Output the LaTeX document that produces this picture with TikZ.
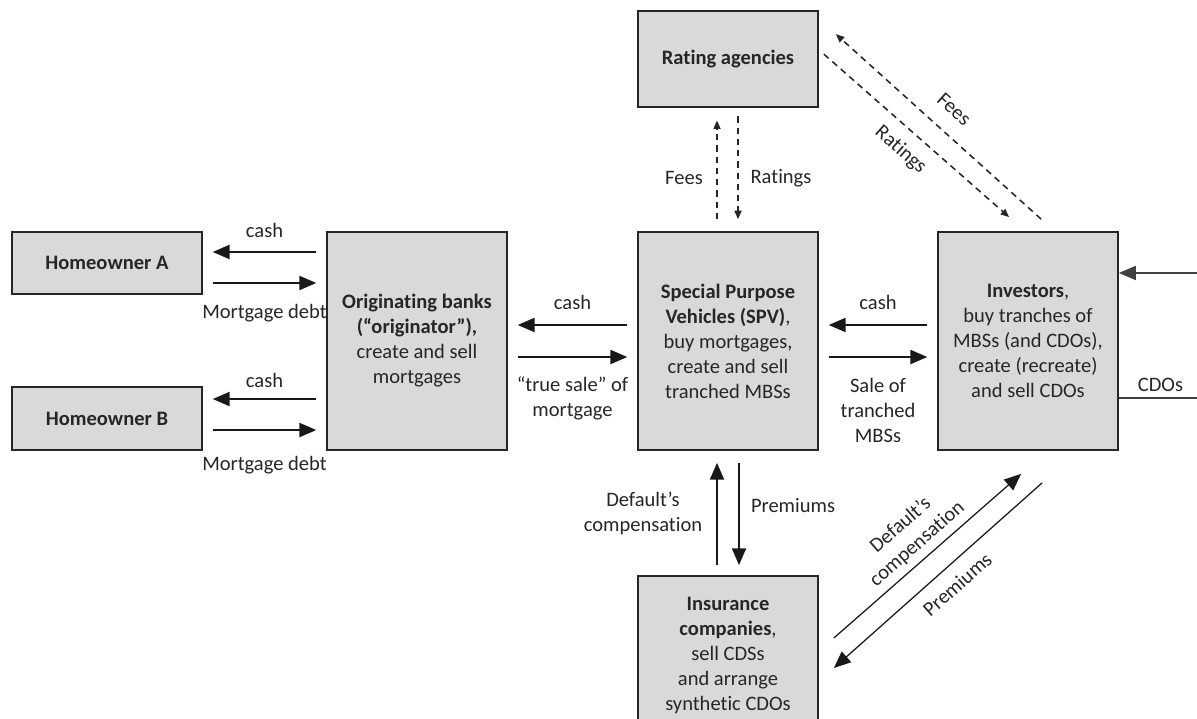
\documentclass[tikz,border=0pt]{standalone}
\usepackage{fontspec}
\setmainfont[Ligatures=NoCommon]{Carlito}
\usetikzlibrary{arrows.meta,calc}

\begin{document}
\begin{tikzpicture}[
    x=0.025cm, y=-0.025cm,
    font=\fontsize{14.6}{17.8}\selectfont,
    every node/.style={text=black!85},
    box/.style={draw=black!85, line width=1.2pt, fill=black!15, align=center, inner sep=0pt},
    flow/.style={line width=1.3pt, draw=black!90, -{Triangle[length=12pt,width=10pt]}},
    gap/.style={shorten <=7pt, shorten >=7pt},
    dflow/.style={line width=1.1pt, draw=black!85, dash pattern=on 4.5pt off 3.5pt, -{Triangle[length=6pt,width=5pt]}},
    thin flow/.style={line width=0.9pt, draw=black!90, -{Triangle[length=12pt,width=10pt]}}
  ]
  \clip (0,0) rectangle (1197,718);

  % boxes
  \node[box, minimum width=4.75cm, minimum height=1.55cm] (hoA) at (107,263) {\textbf{Homeowner A}};
  \node[box, minimum width=4.75cm, minimum height=1.575cm] (hoB) at (107,418.5) {\textbf{Homeowner B}};
  \node[box, minimum width=4.5cm, minimum height=5.45cm] (bank) at (417,341)
    {\textbf{Originating banks}\\\textbf{(“originator”),}\\create and sell\\mortgages};
  \node[box, minimum width=4.5cm, minimum height=5.45cm] (spv) at (728,341)
    {\textbf{Special Purpose}\\\textbf{Vehicles (SPV)},\\buy mortgages,\\create and sell\\tranched MBSs};
  \node[box, minimum width=4.5cm, minimum height=5.45cm] (inv) at (1028,341)
    {\textbf{Investors},\\buy tranches of\\MBSs (and CDOs),\\create (recreate)\\and sell CDOs};
  \node[box, minimum width=4.5cm, minimum height=2.4cm] (rating) at (728,59) {\textbf{Rating agencies}};
  \node[box, minimum width=4.5cm, minimum height=4cm, anchor=north] (ins) at (728,575)
    {\textbf{Insurance}\\\textbf{companies},\\sell CDSs\\and arrange\\synthetic CDOs};

  % homeowners <-> banks
  \draw[flow, gap] ([yshift=2.225cm]bank.west) -- ([yshift=2.225cm]bank.west -| hoA.east)
    node[midway, yshift=0.55cm] {cash};
  \draw[flow, gap] ([yshift=1.45cm]bank.west -| hoA.east) -- ([yshift=1.45cm]bank.west)
    node[midway, yshift=-0.75cm] {Mortgage debt};
  \draw[flow, gap] ([yshift=-1.45cm]bank.west) -- ([yshift=-1.45cm]bank.west -| hoB.east)
    node[midway, yshift=0.475cm] {cash};
  \draw[flow, gap] ([yshift=-2.225cm]bank.west -| hoB.east) -- ([yshift=-2.225cm]bank.west)
    node[midway, yshift=-0.875cm] {Mortgage debt};

  % banks <-> SPV
  \draw[flow, gap] ([yshift=0.4cm]spv.west) -- ([yshift=0.4cm]spv.west -| bank.east)
    node[midway, yshift=0.575cm] {cash};
  \draw[flow, gap] ([yshift=-0.4cm]spv.west -| bank.east) -- ([yshift=-0.4cm]spv.west)
    node[midway, yshift=-1.025cm, align=center] {“true sale” of\\mortgage};

  % SPV <-> investors
  \draw[flow, gap] ([yshift=0.4cm]inv.west) -- ([yshift=0.4cm]inv.west -| spv.east)
    node[midway, yshift=0.575cm] {cash};
  \draw[flow, gap] ([yshift=-0.4cm]inv.west -| spv.east) -- ([yshift=-0.4cm]inv.west)
    node[midway, yshift=-1.325cm, align=center] {Sale of\\tranched\\MBSs};

  % CDOs loop
  \coordinate (loop) at (1202,341);
  \draw[line width=0.8pt, draw=black!75, -{Triangle[length=12pt,width=10pt]}]
    ([yshift=-1.425cm]inv.east) -| node[pos=0.25, above=1pt] {CDOs} (loop)
    |- ([yshift=1.7cm]inv.east);

  % SPV <-> rating agencies
  \draw[dflow, shorten <=8.5pt, shorten >=9pt] ([xshift=-0.275cm]spv.north) -- ([xshift=-0.275cm]spv.north |- rating.south)
    node[midway, xshift=-0.825cm, yshift=-0.21cm] {Fees};
  \draw[dflow, shorten <=6pt, shorten >=8.5pt] ([xshift=0.25cm]spv.north |- rating.south) -- ([xshift=0.25cm]spv.north)
    node[midway, xshift=1.075cm, yshift=-0.21cm] {Ratings};

  % investors <-> rating agencies
  \draw[dflow] ($(inv.north west)+(104,-12)$) -- ($(rating.north east)+(17,24)$)
    node[pos=0.5, sloped, above=8pt] {Fees};
  \draw[dflow] ($(rating.north east)+(5,44)$) -- ($(inv.north west)+(72,-14)$)
    node[pos=0.49, sloped, below=5pt] {Ratings};

  % SPV <-> insurance
  \draw[flow, shorten <=7pt, shorten >=8.5pt] ([xshift=-0.275cm]ins.north) -- ([xshift=-0.275cm]ins.north |- spv.south)
    node[midway, xshift=-1.85cm, align=center] {Default’s\\compensation};
  \draw[flow, shorten <=8.5pt, shorten >=7pt] ([xshift=0.275cm]ins.north |- spv.south) -- ([xshift=0.275cm]ins.north)
    node[midway, xshift=1.35cm, yshift=0.19cm] {Premiums};

  % investors <-> insurance
  \draw[thin flow] ($(ins.north east)+(15,63)$) -- ($(inv.south west)+(84,23)$)
    node[pos=0.5, sloped, above=1pt, align=center] {Default’s\\compensation};
  \draw[thin flow] ($(inv.south west)+(105,32)$) -- ($(ins.north east)+(15,93)$)
    node[pos=0.47, sloped, below=5pt] {Premiums};
\end{tikzpicture}
\end{document}
